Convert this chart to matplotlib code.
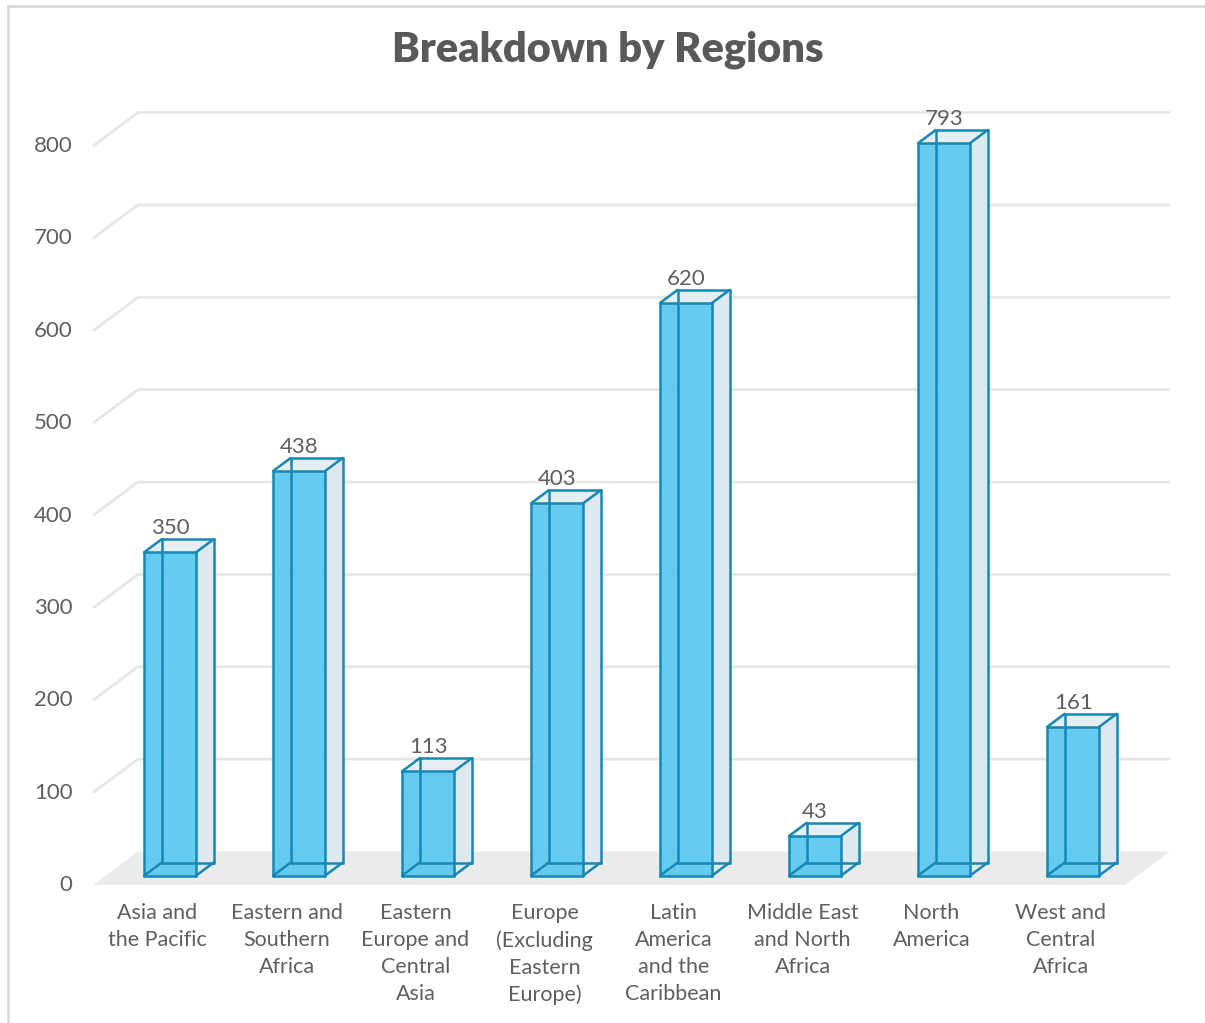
import numpy as np
import matplotlib.pyplot as plt
from matplotlib.patches import Polygon, Rectangle

# data
regions = ["Asia and\nthe Pacific", "Eastern and\nSouthern\nAfrica",
           "Eastern\nEurope and\nCentral\nAsia", "Europe\n(Excluding\nEastern\nEurope)",
           "Latin\nAmerica\nand the\nCaribbean", "Middle East\nand North\nAfrica",
           "North\nAmerica", "West and\nCentral\nAfrica"]
counts = [350, 438, 113, 403, 620, 43, 793, 161]
yticks = [0, 100, 200, 300, 400, 500, 600, 700, 800]

plt.rcParams['font.family'] = ['Lato', 'DejaVu Sans']

W, H = 1205, 1023
fig = plt.figure(figsize=(W / 100, H / 100), dpi=100)

# pixel geometry of the plot box (front plane, depth 0)
px_left, px_right = 93, 1170
px_zero, px_per_unit = 885, 0.92375
cat_px = 129.0
ymax = 850
ax = fig.add_axes([px_left / W, (H - px_zero) / H,
                   (px_right - px_left) / W, ymax * px_per_unit / H])
n = len(counts)
DX = 45 / cat_px            # depth offset in category units
DY = 33.5 / px_per_unit     # depth offset in value units
ax.set_xlim(-0.5, n - 0.5 + DX)
ax.set_ylim(0, ymax)
ax.axis("off")


def proj(x, v, d):
    return (x + d * DX, v + d * DY)


grid_col = "#e6e6e6"
txt_col = "#5f5f5f"
x0, x1 = -0.5, n - 0.5

# floor
floor = [proj(x0, 0, 0), proj(x1, 0, 0), proj(x1, 0, 1), proj(x0, 0, 1)]
ax.add_patch(Polygon(floor, closed=True, facecolor="#ebebeb", edgecolor="none", zorder=1))

# gridlines on back wall + side
for t in yticks[1:]:
    pts = [proj(x0, t, 0), proj(x0, t, 1), proj(x1, t, 1)]
    ax.plot([p[0] for p in pts], [p[1] for p in pts], color=grid_col, lw=2,
            solid_capstyle="butt", zorder=1, clip_on=False)

for t in yticks:
    ax.text(x0 - 0.16, t, str(t), ha="right", va="center", fontsize=16,
            color=txt_col)

# bars
bw = 0.403
d0, d1 = 0.28, 0.67
edge = "#1787b4"
for i, v in enumerate(counts):
    xl, xr = i - bw / 2, i + bw / 2
    # corners
    fbl, fbr, ftr, ftl = proj(xl, 0, d0), proj(xr, 0, d0), proj(xr, v, d0), proj(xl, v, d0)
    bbl, bbr, btr, btl = proj(xl, 0, d1), proj(xr, 0, d1), proj(xr, v, d1), proj(xl, v, d1)
    # right side face
    ax.add_patch(Polygon([fbr, bbr, btr, ftr], facecolor="#dce9ef", edgecolor="none", zorder=2))
    # top face
    ax.add_patch(Polygon([ftl, ftr, btr, btl], facecolor="#e4eef3", edgecolor="none", zorder=2))
    # front face
    ax.add_patch(Polygon([fbl, fbr, ftr, ftl], facecolor="#5ec9f0", alpha=0.95,
                         edgecolor="none", zorder=3))
    edges = [(fbl, fbr), (fbr, ftr), (ftr, ftl), (ftl, fbl),
             (bbl, bbr), (bbr, btr), (btr, btl), (btl, bbl),
             (fbl, bbl), (fbr, bbr), (ftr, btr), (ftl, btl)]
    for a, b in edges:
        ax.plot([a[0], b[0]], [a[1], b[1]], color=edge, lw=1.8,
                solid_capstyle="round", zorder=4, clip_on=False)
    cx = i + d0 * DX
    ax.text(cx, v + d1 * DY + 1, str(v), ha="center", va="bottom", fontsize=16,
            color=txt_col)
    ax.text(i, -20, regions[i], ha="center", va="top", fontsize=15.5,
            color=txt_col, linespacing=1.42)

fig.text(608 / W, 1 - 50 / H, "Breakdown by Regions", ha="center", va="center",
         fontsize=30, fontweight="heavy", color="#595959")

# chart border
fig.add_artist(Rectangle((8 / W, -0.1), 1.2, 1 - 6 / H + 0.1, transform=fig.transFigure,
                         fill=False, edgecolor="#d9d9d9", lw=2))

fig.savefig("out.png", dpi=100)
